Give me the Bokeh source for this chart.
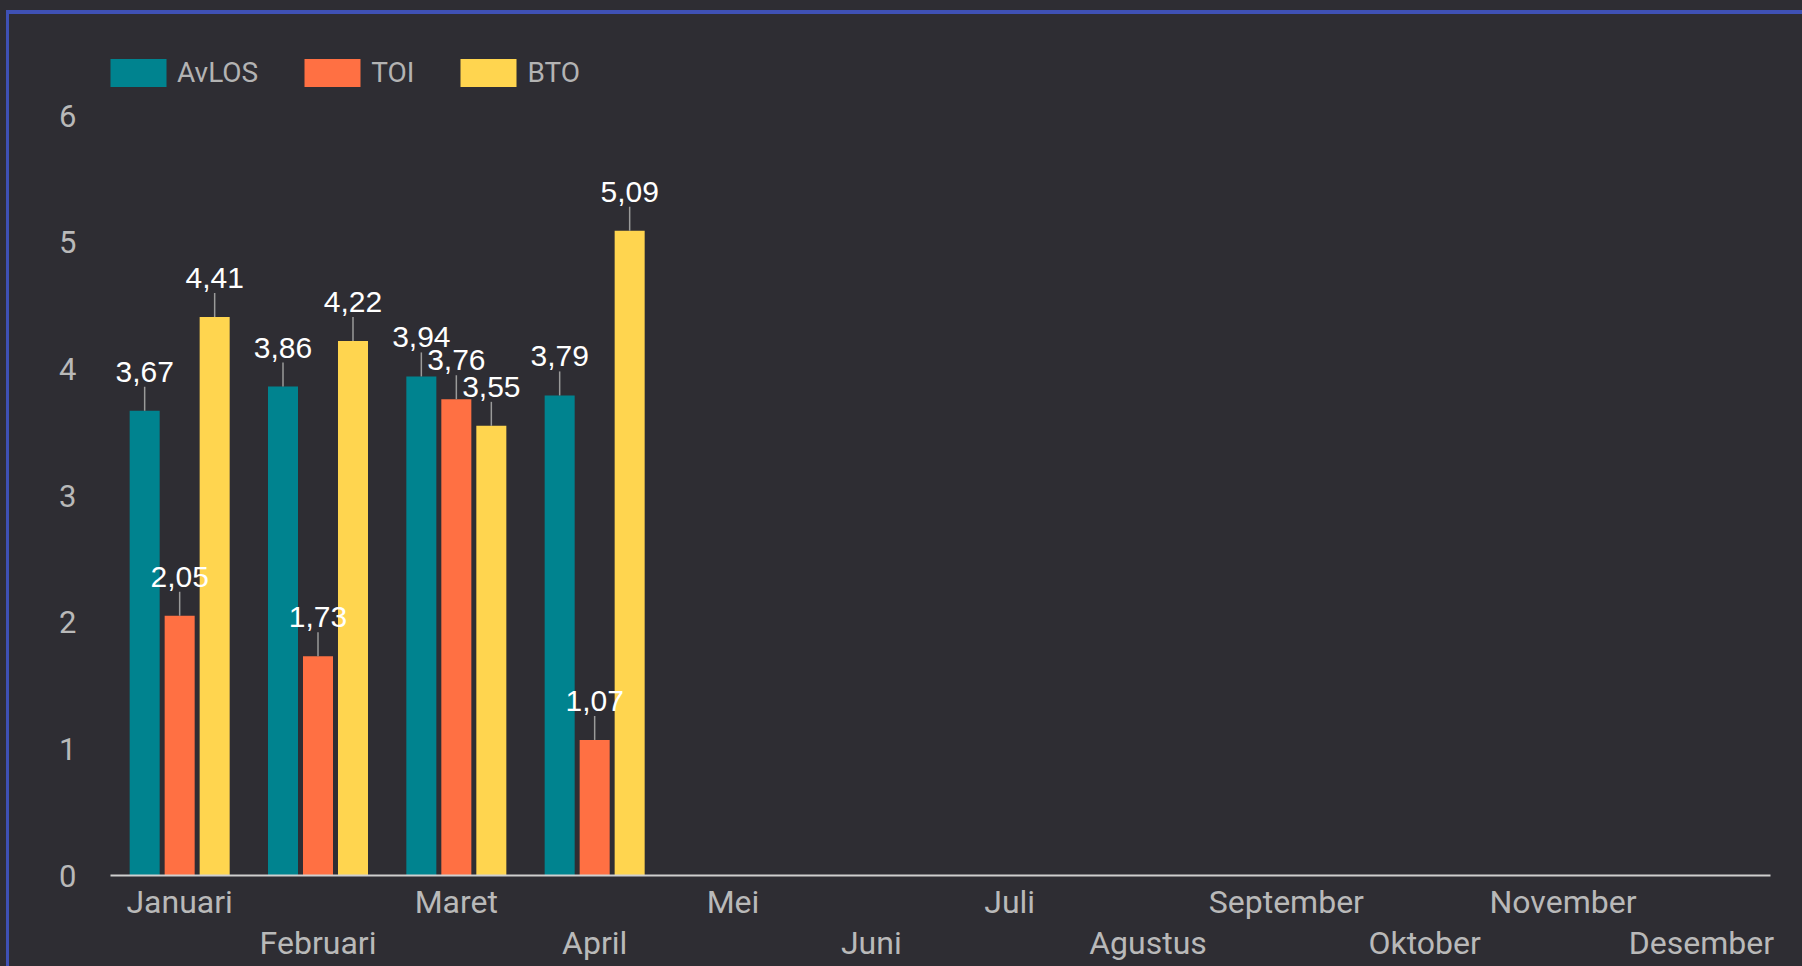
from bokeh.plotting import figure
from bokeh.models import (Range1d, FixedTicker, LinearAxis, ColumnDataSource,
                          LabelSet, Legend, LegendItem)
from bokeh.core.properties import value
from bokeh.embed import file_html
from bokeh.resources import INLINE

# ---- data ----
months = ["Januari", "Februari", "Maret", "April", "Mei", "Juni", "Juli",
          "Agustus", "September", "Oktober", "November", "Desember"]
series_names = ["AvLOS", "TOI", "BTO"]
avlos = [3.67, 3.86, 3.94, 3.79]
toi = [2.05, 1.73, 3.76, 1.07]
bto = [4.41, 4.22, 3.55, 5.09]
colors = ["#00838f", "#ff7043", "#ffd54f"]
y_ticks = [0, 1, 2, 3, 4, 5, 6]

BG = "#2e2d33"
TICK_COLOR = "#b9b9b9"

# frame extends above the top tick so the legend sits inside it
FRAME_TOP, FRAME_H = 40, 835
Y_TOP = 6 * FRAME_H / 760.0

p = figure(width=1802, height=966,
           x_range=Range1d(-0.5, len(months) - 0.5), y_range=Range1d(0, Y_TOP),
           output_backend="svg", toolbar_location=None,
           min_border_left=110, min_border_right=32,
           min_border_top=FRAME_TOP, min_border_bottom=966 - FRAME_TOP - FRAME_H)
p.background_fill_alpha = 0
p.border_fill_alpha = 0
p.outline_line_color = None
p.grid.visible = False

offsets = [-0.253, 0.0, 0.253]
bar_w = 0.217
renderers = []
for name, vals, col, off in zip(series_names, [avlos, toi, bto], colors, offsets):
    xs = [i + off for i in range(len(vals))]
    src = ColumnDataSource(dict(x=xs, top=vals,
                                lab=[f"{v:.2f}".replace(".", ",") for v in vals]))
    r = p.vbar(x="x", top="top", width=bar_w, source=src,
               fill_color=col, line_color=None)
    renderers.append(r)
    p.ray(x="x", y="top", length=24, length_units="screen", angle=90,
          angle_units="deg", source=src, line_color="#9a9a9a", line_width=1.5)
    p.add_layout(LabelSet(x="x", y="top", text="lab", source=src,
                          y_offset=29, text_align="center",
                          text_baseline="alphabetic",
                          text_font=value("Liberation Sans"),
                          text_font_size=value("30px"),
                          text_color="#ffffff"))

# y axis
ya = p.yaxis[0]
ya.ticker = FixedTicker(ticks=y_ticks)
ya.axis_line_color = None
ya.major_tick_line_color = None
ya.minor_tick_line_color = None
ya.major_label_standoff = 28
ya.major_label_text_font = "Roboto"
ya.major_label_text_font_size = "31px"
ya.major_label_text_color = TICK_COLOR

# x axis (two rows)
even = list(range(0, len(months), 2))
odd = list(range(1, len(months), 2))
xa = p.xaxis[0]
xa.ticker = FixedTicker(ticks=even)
xa.major_label_overrides = {i: months[i] for i in even}
xa.axis_line_color = "#cfcfcf"
xa.axis_line_width = 2
xa.major_tick_line_color = None
xa.minor_tick_line_color = None
xa.major_label_standoff = 1
xa.major_label_text_font = "Roboto"
xa.major_label_text_font_size = "32px"
xa.major_label_text_color = TICK_COLOR

xb = LinearAxis(ticker=FixedTicker(ticks=odd),
                major_label_overrides={i: months[i] for i in odd})
xb.axis_line_color = None
xb.major_tick_line_color = None
xb.minor_tick_line_color = None
xb.major_label_standoff = -6
xb.major_label_text_font = "Roboto"
xb.major_label_text_font_size = "32px"
xb.major_label_text_color = TICK_COLOR
p.add_layout(xb, "below")

legend = Legend(items=[LegendItem(label=n, renderers=[r])
                       for n, r in zip(series_names, renderers)],
                orientation="horizontal", location=(-7, 785),
                glyph_width=70, glyph_height=35, label_standoff=4,
                spacing=39, padding=0, margin=0,
                border_line_color=None, background_fill_alpha=0,
                label_text_font="Roboto", label_text_font_size="28px",
                label_text_color="#b3b3b3")
p.add_layout(legend, "center")

html = file_html(p, INLINE)
html = html.replace("<head>", "<head><style>body{background:%s;}</style>" % BG, 1)
frame_div = ('<div style="position:fixed;left:6px;top:10px;right:0;bottom:0;'
             'border-top:4px solid #3f51b5;border-left:3px solid #3f51b5;'
             'pointer-events:none;z-index:10"></div>')
html = html.replace("</body>", frame_div + "</body>", 1)
open("out.html", "w").write(html)
